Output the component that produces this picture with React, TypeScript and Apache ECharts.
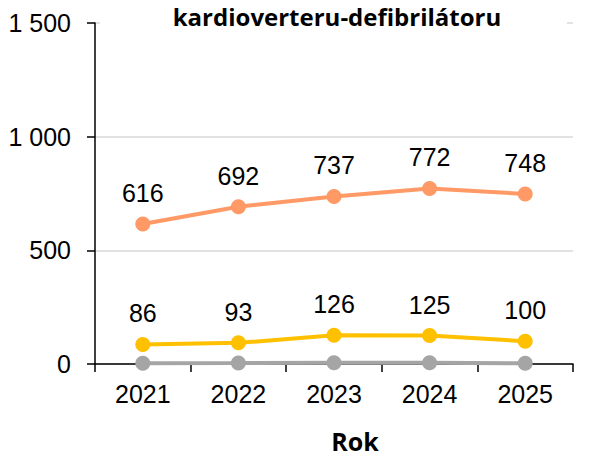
import React, { useEffect, useRef } from "react";
import * as echarts from "echarts";

const years = ["2021", "2022", "2023", "2024", "2025"];
const orangeValues = [616, 692, 737, 772, 748];
const yellowValues = [86, 93, 126, 125, 100];
const grayValues = [3, 4, 6, 5, 3];
const yTicks = [0, 500, 1000, 1500];
const titleText = "kardioverteru-defibrilátoru";
const xAxisName = "Rok";

const numFont = "'Liberation Sans', Arial, sans-serif";
const boldFont = "'Open Sans', 'Noto Sans', sans-serif";

function fmt(v: number): string {
  return String(v).replace(/\B(?=(\d{3})+(?!\d))/g, " ");
}

export default function App() {
  const ref = useRef<HTMLDivElement>(null);
  useEffect(() => {
    if (!ref.current) return;
    const chart = echarts.init(ref.current, undefined, { renderer: "svg" });
    const mkSeries = (name: string, data: number[], color: string, showLabel: boolean) => ({
      name,
      type: "line",
      data,
      symbol: "circle",
      symbolSize: 15,
      lineStyle: { color, width: 4 },
      itemStyle: { color },
      label: {
        show: showLabel,
        position: "top",
        distance: 11,
        fontFamily: numFont,
        fontSize: 25,
        color: "#000",
      },
      z: 3,
    });
    chart.setOption({
      animation: false,
      backgroundColor: "#fff",
      grid: { left: 95, right: 17, top: 23, bottom: 92 },
      xAxis: {
        type: "category",
        data: years,
        boundaryGap: true,
        name: xAxisName,
        nameLocation: "middle",
        nameGap: 64,
        nameTextStyle: {
          fontFamily: boldFont,
          fontWeight: "bold",
          fontSize: 25,
          color: "#000",
          padding: [0, 0, 0, 42],
        },
        axisLine: { lineStyle: { color: "#000", width: 1.5 } },
        axisTick: { show: true, length: 8, lineStyle: { color: "#000", width: 1.5 } },
        axisLabel: { fontFamily: numFont, fontSize: 25, color: "#000", margin: 17 },
        splitLine: { show: false },
      },
      yAxis: {
        type: "value",
        min: yTicks[0],
        max: yTicks[yTicks.length - 1],
        interval: yTicks[1] - yTicks[0],
        axisLine: { show: true, lineStyle: { color: "#000", width: 1.5 } },
        axisTick: { show: true, length: 8, lineStyle: { color: "#000", width: 1.5 } },
        axisLabel: {
          fontFamily: numFont,
          fontSize: 25,
          color: "#000",
          margin: 24,
          formatter: (v: number) => fmt(v),
        },
        splitLine: { show: true, lineStyle: { color: "#D9D9D9", width: 1.5 } },
      },
      graphic: [
        {
          type: "rect",
          z: 100,
          shape: { x: 100, y: 0, width: 467, height: 31 },
          style: { fill: "#fff" },
        },
        {
          type: "text",
          z: 101,
          x: 337,
          y: 4,
          style: {
            text: titleText,
            fontFamily: boldFont,
            fontWeight: "bold",
            fontSize: 24,
            fill: "#000",
            align: "center",
            verticalAlign: "top",
          },
        },
      ],
      series: [
        mkSeries("Series A", orangeValues, "#FF9966", true),
        mkSeries("Series B", yellowValues, "#FFC000", true),
        mkSeries("Series C", grayValues, "#A5A5A5", false),
      ],
    });
    return () => chart.dispose();
  }, []);
  return <div ref={ref} style={{ width: 590, height: 458, position: "absolute", left: 0, top: 0 }} />;
}
